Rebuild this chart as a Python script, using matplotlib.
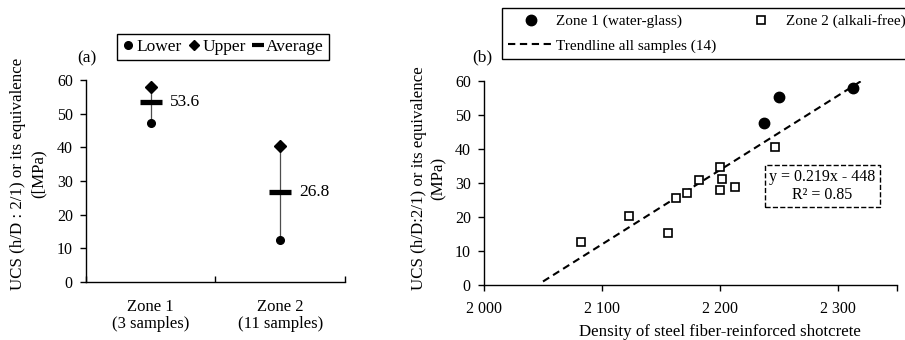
import matplotlib
matplotlib.use("Agg")
import matplotlib.pyplot as plt
from matplotlib.lines import Line2D
from matplotlib.ticker import FixedLocator, FuncFormatter

plt.rcParams['font.family'] = ['Liberation Serif', 'DejaVu Serif']
plt.rcParams['font.size'] = 11.5
LABEL_FS = 12.2

# (a) range of UCS per zone
zones = ['Zone 1\n(3 samples)', 'Zone 2\n(11 samples)']
ucs_lower = [47.3, 12.6]
ucs_upper = [58.0, 40.4]
ucs_avg = [53.6, 26.8]

# (b) UCS against density
z1_density = [2312.7, 2250.0, 2237.0]
z1_ucs = [58.0, 55.4, 47.5]
z2_density = [2082, 2123, 2156, 2163, 2172, 2182, 2199.6, 2202, 2200, 2213, 2247]
z2_ucs = [12.6, 20.1, 15.1, 25.5, 26.9, 30.9, 34.8, 31.1, 27.9, 28.9, 40.5]
slope, intercept, r2 = 0.219, -448, 0.85
trend_range = [2050, 2326]

fig = plt.figure(figsize=(9.05, 3.4), dpi=100)
ax1 = fig.add_axes([0.0950, 0.1706, 0.2862, 0.5941])
ax2 = fig.add_axes([0.5348, 0.1626, 0.4564, 0.5991])

for ax in (ax1, ax2):
    for s in ('top', 'right'):
        ax.spines[s].set_visible(False)
    for s in ('left', 'bottom'):
        ax.spines[s].set_linewidth(1.0)
    ax.set_ylim(0, 60)
    ax.set_yticks(range(0, 61, 10))
    ax.tick_params(axis='y', direction='out', length=4.5, width=1.0, pad=5)

# ---- panel (a)
xc = [0.5, 1.5]
for x, lo, hi in zip(xc, ucs_lower, ucs_upper):
    ax1.plot([x, x], [lo, hi], color='0.3', lw=0.9, zorder=1)
ax1.plot(xc, ucs_lower, 'o', color='k', ms=5.5, zorder=3)
ax1.plot(xc, ucs_upper, 'D', color='k', ms=6.5, zorder=3)
ax1.plot(xc, ucs_avg, '_', color='k', ms=16, mew=3.8, zorder=3)
for x, v in zip(xc, ucs_avg):
    ax1.annotate(f'{v:.1f}', (x, v), xytext=(13.5, 0), textcoords='offset points',
                 va='center', ha='left', fontsize=12.5)

ax1.set_xlim(0, 2)
ax1.xaxis.set_major_locator(FixedLocator([0, 1, 2]))
ax1.xaxis.set_major_formatter(FuncFormatter(lambda v, p: ''))
ax1.set_xticks(xc, zones, minor=True, fontsize=12)
ax1.tick_params(axis='x', which='major', direction='in', length=4, width=1.0)
ax1.tick_params(axis='x', which='minor', length=0, pad=12)
for lab in ax1.get_xticklabels(minor=True):
    lab.set_linespacing(1.1)
ax1.set_ylabel('UCS (h/D : 2/1) or its equivalence\n([MPa)', linespacing=1.37,
               fontsize=LABEL_FS)
ax1.yaxis.set_label_coords(-0.151, 0.535)

h_a = [Line2D([], [], marker='o', color='k', ls='none', ms=5.5),
       Line2D([], [], marker='D', color='k', ls='none', ms=5.5),
       Line2D([], [], marker='_', color='k', ls='none', ms=8.4, mew=3)]
leg_a = fig.legend(h_a, ['Lower', 'Upper', 'Average'], loc='center', ncol=3,
                   bbox_to_anchor=(223 / 905, 1 - 47 / 340), bbox_transform=fig.transFigure,
                   fancybox=False, edgecolor='k', framealpha=1, fontsize=12.5,
                   handlelength=0.75, handletextpad=0.1, columnspacing=0.33,
                   borderpad=0.3, borderaxespad=0)
leg_a.get_frame().set_linewidth(1.0)
fig.text(86.7 / 905, 1 - 58 / 340, '(a)', ha='center', va='center', fontsize=12.5)

# ---- panel (b)
ax2.plot(z1_density, z1_ucs, 'o', color='k', ms=7.5, zorder=3,
         label='Zone 1 (water-glass)')
ax2.plot(z2_density, z2_ucs, 's', mfc='white', mec='k', mew=1.2, ms=6.2, zorder=3,
         label='Zone 2 (alkali-free)')
ty = [slope * x + intercept for x in trend_range]
ax2.plot(trend_range, ty, color='k', lw=1.5, dashes=(3.5, 2.2), zorder=2,
         label='Trendline all samples (14)')

ax2.set_xlim(2000, 2350)
ax2.set_xticks([2000, 2100, 2200, 2300])
ax2.set_xticks([2350], minor=True)
ax2.xaxis.set_major_formatter(FuncFormatter(lambda v, p: f'{int(v):,}'.replace(',', ' ')))
ax2.tick_params(axis='x', which='both', direction='out', length=4.5, width=1.0, pad=7)
ax2.set_xlabel('Density of steel fiber-reinforced shotcrete', fontsize=LABEL_FS)
ax2.xaxis.set_label_coords(0.571, -0.195)
ax2.set_ylabel('UCS (h/D:2/1) or its equivalence\n(MPa)', linespacing=1.37,
               fontsize=LABEL_FS)
ax2.yaxis.set_label_coords(-0.0896, 0.524)

sign = '-' if intercept < 0 else '+'
ax2.text(0.8196, 0.4845, f'y = {slope}x {sign} {abs(intercept)}\nR² = {r2}',
         transform=ax2.transAxes, ha='center', va='center', linespacing=1.1,
         bbox=dict(boxstyle='square,pad=0.3', fc='white', ec='k', lw=1.0, ls='--'))

h, l = ax2.get_legend_handles_labels()
order = [0, 2, 1]
leg_b = fig.legend([h[i] for i in order], [l[i] for i in order], loc='upper left', ncol=2,
                   bbox_to_anchor=(502 / 905, 1 - 8 / 340), bbox_transform=fig.transFigure,
                   fancybox=False, edgecolor='k', framealpha=1, fontsize=11,
                   handlelength=2.9, handletextpad=0.2, columnspacing=1.5,
                   borderpad=0.42, labelspacing=0.7, borderaxespad=0)
leg_b.get_frame().set_linewidth(1.0)
fig.text(482 / 905, 1 - 57 / 340, '(b)', ha='center', va='center', fontsize=12.5)

fig.savefig('out.png', dpi=100)
